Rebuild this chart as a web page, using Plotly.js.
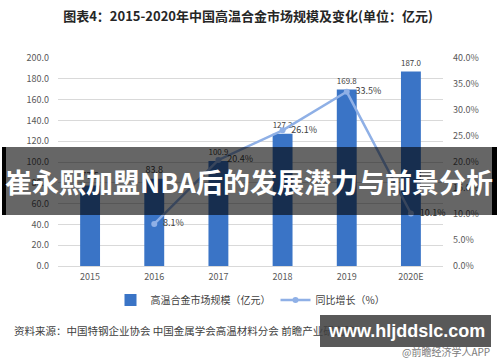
<!DOCTYPE html>
<html>
<head>
<meta charset="utf-8">
<script src="https://cdn.plot.ly/plotly-3.0.1.min.js"></script>
<style>html,body{margin:0;padding:0;background:#fff;}#chart{width:500px;height:362px;}</style>
</head>
<body>
<div id="chart"></div>
<script>
const years = ['2015', '2016', '2017', '2018', '2019', '2020E'];
const marketSize = [77.5, 83.8, 100.9, 127.2, 169.8, 187.0];
const growthRate = [null, 8.1, 20.4, 26.1, 33.5, 10.1];
const leftTicks = [0, 20, 40, 60, 80, 100, 120, 140, 160, 180, 200];
const rightTicks = [0, 5, 10, 15, 20, 25, 30, 35, 40];

const FONT = '"Noto Sans CJK SC", "Noto Sans", sans-serif';
const W = 500, H = 362, L = 58, R = 57, T = 58, B = 96;
const pw = W - L - R, ph = H - T - B;
const px = x => (x - L) / pw;
const py = y => (H - B - y) / ph;

const bars = {
  type: 'bar', x: years, y: marketSize, name: '高温合金市场规模（亿元）',
  marker: {color: '#3a74c6'}, width: 0.31,
  text: marketSize.map(v => v.toFixed(1)), textposition: 'outside',
  textfont: {size: 9, color: '#404040', family: FONT}, cliponaxis: false,
  hoverinfo: 'skip'
};
const line = {
  type: 'scatter', mode: 'lines+markers+text', x: years, y: growthRate, yaxis: 'y2',
  name: '同比增长（%）',
  line: {color: '#8fb0e6', width: 2.5}, marker: {color: '#8fb0e6', size: 6},
  text: growthRate.map(v => v == null ? '' : '\u00a0\u00a0' + v.toFixed(1) + '%'), textposition: 'middle right',
  textfont: {size: 9, color: '#404040', family: FONT}, cliponaxis: false,
  connectgaps: false, hoverinfo: 'skip'
};

const layout = {
  width: W, height: H,
  margin: {l: L, r: R, t: T, b: B, pad: 0},
  paper_bgcolor: '#ffffff', plot_bgcolor: '#ffffff',
  font: {family: FONT, color: '#595959', size: 9},
  title: {text: '<b>图表4：2015-2020年中国高温合金市场规模及变化(单位：亿元)</b>',
    font: {size: 13, color: '#262626', family: FONT},
    xref: 'container', x: 0.496, xanchor: 'center', yref: 'container', y: 1 - 16 / H, yanchor: 'middle'},
  bargap: 0.69,
  xaxis: {type: 'category', showgrid: false, showline: false, zeroline: false, ticks: '',
    tickfont: {size: 9, color: '#595959'}, ticklabelstandoff: 4},
  yaxis: {range: [0, 200], tickvals: leftTicks, ticktext: leftTicks.map(v => v.toFixed(1)),
    showgrid: true, gridcolor: '#d9d9d9', gridwidth: 1, zeroline: true, zerolinecolor: '#d9d9d9',
    showline: false, ticks: '', tickfont: {size: 9, color: '#595959'}, ticklabelstandoff: 8},
  yaxis2: {range: [0, 40], overlaying: 'y', side: 'right', tickvals: rightTicks,
    ticktext: rightTicks.map(v => v.toFixed(1) + '%'), showgrid: false, zeroline: false,
    showline: false, ticks: '', tickfont: {size: 9, color: '#595959'}, ticklabelstandoff: 9},
  showlegend: true,
  legend: {orientation: 'h', x: 0.5, xanchor: 'center', y: py(300), yanchor: 'middle',
    font: {size: 10, color: '#404040', family: FONT}, itemwidth: 30, traceorder: 'normal'},
  shapes: [
    {type: 'rect', xref: 'paper', yref: 'paper', x0: px(2), x1: px(497), y0: py(147), y1: py(215),
      fillcolor: 'rgba(0,0,0,0.6)', line: {width: 0}, layer: 'above'},
    {type: 'rect', xref: 'paper', yref: 'paper', x0: px(2), x1: px(6), y0: py(147), y1: py(215),
      fillcolor: '#000000', line: {width: 0}, layer: 'above'},
    {type: 'rect', xref: 'paper', yref: 'paper', x0: px(492), x1: px(497), y0: py(147), y1: py(215),
      fillcolor: '#000000', line: {width: 0}, layer: 'above'},
    {type: 'rect', xref: 'paper', yref: 'paper', x0: px(320), x1: px(491), y0: py(315), y1: py(347),
      fillcolor: 'rgba(60,60,60,0.85)', line: {width: 0}, layer: 'above'}
  ],
  annotations: [
    {text: '<b>崔永熙加盟NBA后的发展潜力与前景分析</b>', xref: 'paper', yref: 'paper',
      x: px(249), y: py(181), xanchor: 'center', yanchor: 'middle', showarrow: false,
      font: {size: 27, color: '#ffffff', family: FONT}},
    {text: '资料来源：中国特钢企业协会 中国金属学会高温材料分会 前瞻产业研究院', xref: 'paper', yref: 'paper',
      x: px(12), y: py(330), xanchor: 'left', yanchor: 'middle', showarrow: false,
      font: {size: 10.5, color: '#404040', family: FONT}},
    {text: '<b>www.hljddslc.com</b>', xref: 'paper', yref: 'paper',
      x: px(406), y: py(331), xanchor: 'center', yanchor: 'middle', showarrow: false,
      font: {size: 18, color: '#ffffff', family: '"Liberation Sans", Arial, sans-serif'}},
    {text: '@前瞻经济学人APP', xref: 'paper', yref: 'paper',
      x: px(492), y: py(351), xanchor: 'right', yanchor: 'middle', showarrow: false,
      font: {size: 10, color: '#7a7a7a', family: FONT}}
  ]
};

Plotly.newPlot('chart', [bars, line], layout, {displayModeBar: false, staticPlot: true});
</script>
</body>
</html>
